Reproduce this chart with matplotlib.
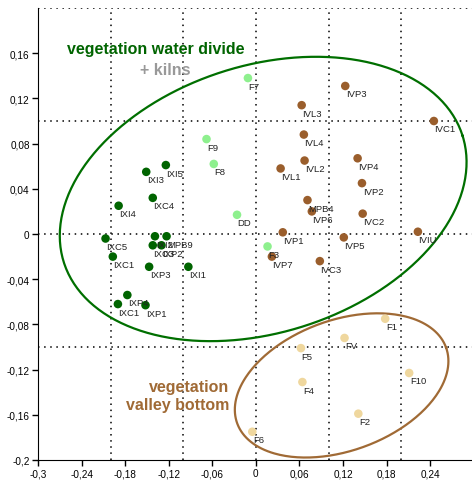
import numpy as np
import matplotlib
matplotlib.use("Agg")
import matplotlib.pyplot as plt
from matplotlib.ticker import FixedLocator

plt.rcParams['font.family'] = ['Liberation Sans', 'DejaVu Sans']

# ---- data ----
ix_names = ["IXI5", "IXI3", "IXC4", "IXI4", "IXC5", "IXC1", "IXI2", "MPB9",
            "IXC3", "IXP2", "IXP3", "IXI1", "IXP4", "IXC1", "IXP1"]
ix_x = [-0.124, -0.151, -0.142, -0.189, -0.207, -0.197, -0.139, -0.123,
        -0.142, -0.130, -0.147, -0.093, -0.177, -0.190, -0.152]
ix_y = [0.061, 0.055, 0.032, 0.025, -0.004, -0.020, -0.002, -0.002,
        -0.010, -0.010, -0.029, -0.029, -0.054, -0.062, -0.063]

fk_names = ["F7", "F9", "F8", "DD", "F3"]
fk_x = [-0.011, -0.068, -0.058, -0.026, 0.016]
fk_y = [0.138, 0.084, 0.062, 0.017, -0.011]

iv_names = ["IVP3", "IVL3", "IVC1", "IVL4", "IVP4", "IVL2", "IVL1", "IVP2",
            "MPB4", "IVP6", "IVC2", "IVP1", "IVP5", "IVIU", "IVP7", "IVC3"]
iv_x = [0.123, 0.063, 0.245, 0.066, 0.140, 0.067, 0.034, 0.146,
        0.071, 0.077, 0.147, 0.037, 0.121, 0.223, 0.022, 0.088]
iv_y = [0.131, 0.114, 0.100, 0.088, 0.067, 0.065, 0.058, 0.045,
        0.030, 0.020, 0.018, 0.0015, -0.003, 0.002, -0.020, -0.024]

fv_names = ["F1", "FV", "F5", "F10", "F4", "F2", "F6"]
fv_x = [0.178, 0.122, 0.062, 0.211, 0.064, 0.141, -0.005]
fv_y = [-0.075, -0.092, -0.101, -0.123, -0.131, -0.159, -0.175]

xticks = [-0.3, -0.24, -0.18, -0.12, -0.06, 0, 0.06, 0.12, 0.18, 0.24]
xlabels = ["-0,3", "-0,24", "-0,18", "-0,12", "-0,06", "0", "0,06", "0,12", "0,18", "0,24"]
yticks = [-0.2, -0.16, -0.12, -0.08, -0.04, 0, 0.04, 0.08, 0.12, 0.16]
ylabels = ["-0,2", "-0,16", "-0,12", "-0,08", "-0,04", "0", "0,04", "0,08", "0,12", "0,16"]

# ellipses drawn by hand in the original: centre, half axes (px scale), tilt
green_ell = dict(cx=0.010, cy=0.031, a=209, b=133, ang=17.5)
brown_ell = dict(cx=0.118, cy=-0.134, a=111, b=65, ang=19.8)
px_x, px_y = 726.0, 1125.0   # pixels per data unit on each axis


def ellipse_pts(cx, cy, a, b, ang):
    t = np.linspace(0, 2*np.pi, 300)
    r = np.radians(ang)
    dx = a*np.cos(t)*np.cos(r) - b*np.sin(t)*np.sin(r)
    dy = a*np.cos(t)*np.sin(r) + b*np.sin(t)*np.cos(r)
    return cx + dx/px_x, cy + dy/px_y


fig = plt.figure(figsize=(4.72, 4.81), dpi=100)
ax = fig.add_axes([38/472, 1 - 461/481, 1 - 38/472, (461 - 9)/481])
ax.set_xlim(-0.3, 0.2975)
ax.set_ylim(-0.2, 0.2)

# dotted grid
for gx in [-0.2, -0.1, 0, 0.1, 0.2]:
    ax.axvline(gx, color='black', lw=1.1, ls=(0, (1, 3)), zorder=1)
for gy in [-0.1, 0, 0.1, 0.2]:
    ax.axhline(gy, color='black', lw=1.1, ls=(0, (1, 3)), zorder=1)

# ellipses
ex, ey = ellipse_pts(**green_ell)
ax.plot(ex, ey, color='#006f00', lw=1.6, zorder=2)
ex, ey = ellipse_pts(**brown_ell)
ax.plot(ex, ey, color='#a06a35', lw=1.6, zorder=2)

groups = [
    (ix_names, ix_x, ix_y, '#006400'),
    (fk_names, fk_x, fk_y, '#8ef08e'),
    (iv_names, iv_x, iv_y, '#9a5e2c'),
    (fv_names, fv_x, fv_y, '#efd79e'),
]
for names, xs, ys, col in groups:
    ax.scatter(xs, ys, s=38, color=col, edgecolors='none', zorder=3)
    for n, x, y in zip(names, xs, ys):
        ax.annotate(n, (x, y), textcoords='offset points', xytext=(0.5, -2.5),
                    ha='left', va='top', fontsize=6.8, color='#222222', zorder=4)

# group titles
ax.text(-0.138, 0.164, "vegetation water divide", color='#006400',
        fontsize=11.5, fontweight='bold', ha='center', va='center')
ax.text(-0.125, 0.146, "+ kilns", color='#999999',
        fontsize=11.5, fontweight='bold', ha='center', va='center')
ax.text(-0.037, -0.143, "vegetation\nvalley bottom", color='#a06a35',
        fontsize=11.5, fontweight='bold', ha='right', va='center',
        linespacing=1.25)

ax.spines['top'].set_visible(False)
ax.spines['right'].set_visible(False)
ax.xaxis.set_major_locator(FixedLocator(xticks))
ax.set_xticklabels(xlabels)
ax.yaxis.set_major_locator(FixedLocator(yticks))
ax.set_yticklabels(ylabels)
ax.tick_params(labelsize=7.2, length=4, width=1, pad=2)

fig.savefig("out.png", dpi=100)
